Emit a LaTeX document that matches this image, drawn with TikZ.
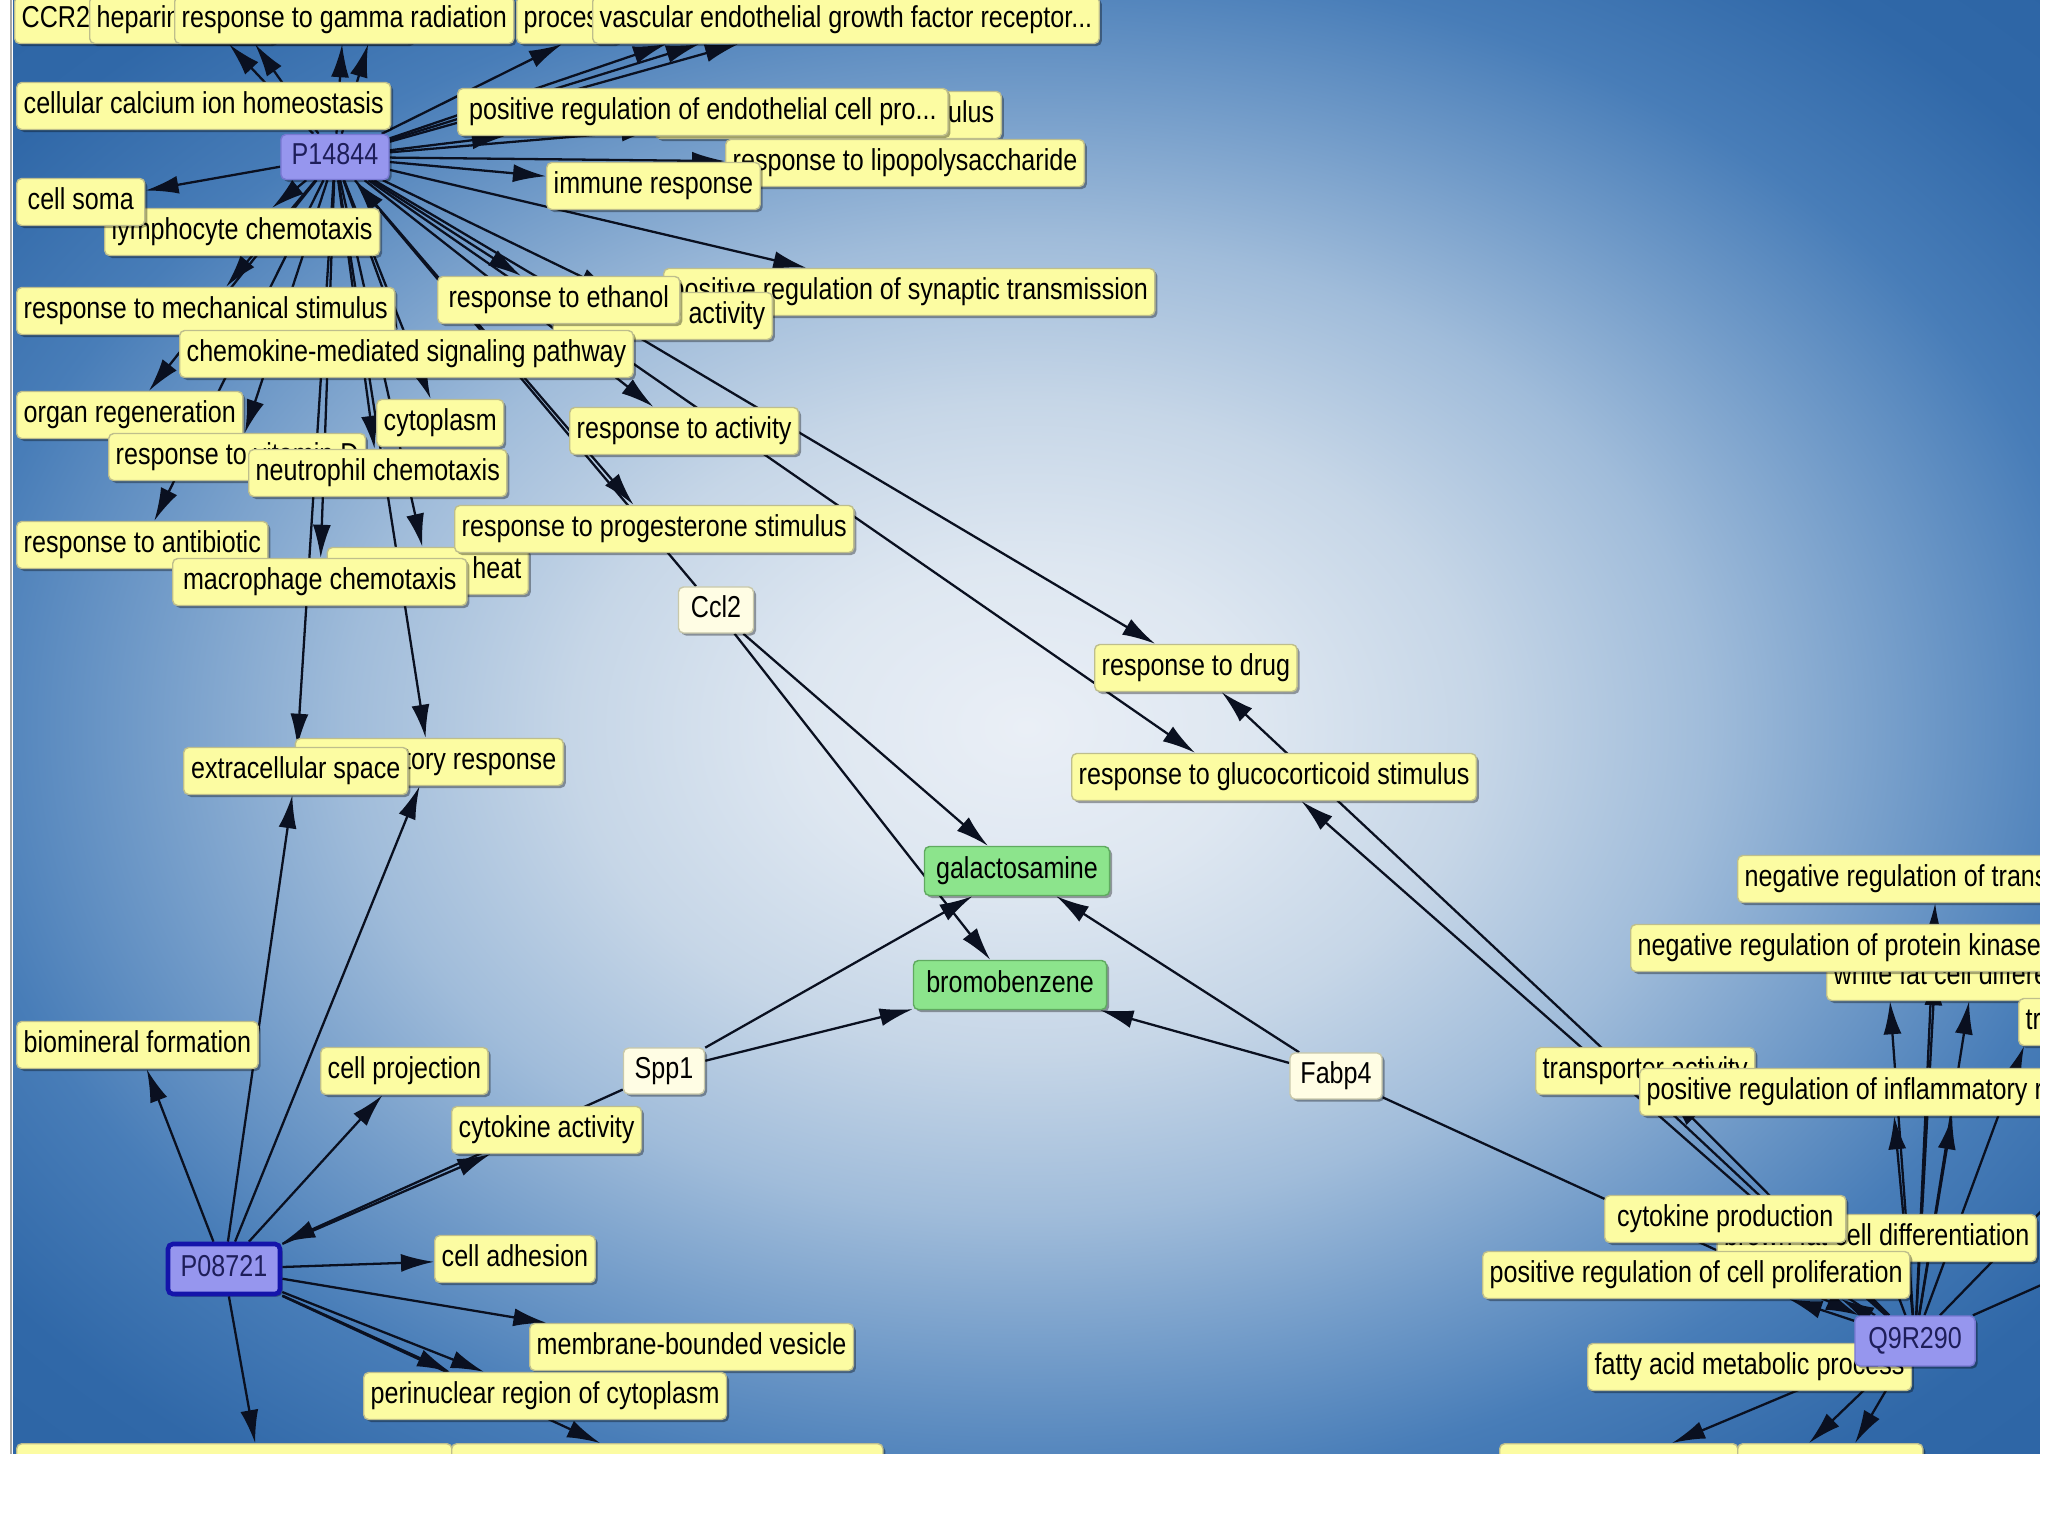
\documentclass[tikz,border=0pt]{standalone}
\usepackage{fontspec}
\newfontfamily\boxfont{Liberation Sans}[FakeStretch=0.83]
\usetikzlibrary{arrows.meta,shadows}
\definecolor{goyel}{RGB}{252,252,162}
\definecolor{gobord}{RGB}{190,190,140}
\definecolor{protc}{RGB}{150,150,238}
\definecolor{protbord}{RGB}{120,120,210}
\definecolor{protext}{RGB}{30,30,90}
\definecolor{selblue}{RGB}{20,20,170}
\definecolor{genec}{RGB}{255,253,228}
\definecolor{genebord}{RGB}{200,200,170}
\definecolor{chemc}{RGB}{140,228,140}
\definecolor{chembord}{RGB}{96,170,96}
\definecolor{edgec}{RGB}{10,16,32}
\definecolor{bg0}{RGB}{234,239,246}
\definecolor{bg1}{RGB}{222,231,241}
\definecolor{bg2}{RGB}{198,214,231}
\definecolor{bg3}{RGB}{160,188,218}
\definecolor{bg4}{RGB}{112,154,200}
\definecolor{bg5}{RGB}{72,125,184}
\definecolor{bg6}{RGB}{48,104,168}
\definecolor{bg7}{RGB}{38,94,158}
\pgfdeclareradialshading{bgshade}{\pgfpoint{0bp}{0bp}}{color(0bp)=(bg0); color(5.6bp)=(bg1); color(11.2bp)=(bg2); color(16.8bp)=(bg3); color(22bp)=(bg4); color(26.5bp)=(bg5); color(32bp)=(bg6); color(45bp)=(bg7)}
\pgfdeclarelayer{bg}
\pgfdeclarelayer{edges}
\pgfdeclarelayer{fg}
\pgfsetlayers{bg,edges,main,fg}
\tikzset{
  go/.style={draw=gobord, fill=goyel, rounded corners=0.05cm, minimum height=0.47cm,
    inner xsep=0.07cm, inner ysep=0pt, text height=0.22cm, text depth=0.065cm,
    font=\boxfont\fontsize{8.6pt}{9.6pt}\selectfont, text=black,
    drop shadow={shadow xshift=0.025cm, shadow yshift=-0.025cm, opacity=0.35, fill=black}},
  prot/.style={go, fill=protc, draw=protbord, text=protext, minimum height=0.45cm},
  sel/.style={draw=selblue, line width=1.3pt},
  gene/.style={go, fill=genec, draw=genebord, minimum height=0.46cm},
  chem/.style={go, fill=chemc, draw=chembord, minimum height=0.49cm},
  arr/.style={draw=edgec, line width=0.65pt, -{Latex[length=0.33cm,width=0.18cm]}},
  ln/.style={draw=edgec, line width=0.65pt},
  botbox/.style={go, anchor=north west, minimum height=0.6cm}
}
\begin{document}
\begin{tikzpicture}[x=0.01cm, y=-0.01cm]
\useasboundingbox (0,0) rectangle (2048,1536);
\begin{pgfonlayer}{bg}
  \fill[white] (0,0) rectangle (2048,1536);
  \shade[shading=bgshade] (13,0) rectangle (2040,1454);
\end{pgfonlayer}

% top row
\node[go,anchor=west] (ccr) at (14,20) {CCR2 chemokine receptor binding};
\node[go,anchor=west] (hep) at (89,20) {heparin binding};
\node[go,anchor=west] (gam) at (174,20) {response to gamma radiation};
\node[go,anchor=west] (proc) at (516,20) {process};
\node[go,anchor=west] (vasc) at (592,20) {vascular endothelial growth factor receptor...};
% second band
\node[go,anchor=west] (cca) at (16,106) {cellular calcium ion homeostasis};
\node[go,anchor=east] (uls) at (1002,115) {response to estradiol stimulus};
\node[go,anchor=west,minimum width=4.9cm] (pre) at (457,112) {positive regulation of endothelial cell pro...};
\node[go,anchor=west] (lps) at (725,163) {response to lipopolysaccharide};
\node[go,anchor=west] (imm) at (546,186) {immune response};
\node[go,anchor=west] (lym) at (104,232) {lymphocyte chemotaxis};
\node[go,anchor=west,minimum width=1.28cm] (soma) at (16,202) {cell soma};
\node[prot,minimum width=1.08cm] (p1) at (335,157) {P14844};
\node[go,anchor=west] (syn) at (663,292) {positive regulation of synaptic transmission};
\node[go,anchor=east] (cka) at (773,316) {chemokine activity};
\node[go,anchor=west,minimum width=2.42cm] (eth) at (437,300) {response to ethanol};
\node[go,anchor=west] (mech) at (16,311) {response to mechanical stimulus};
\node[go,anchor=west] (cms) at (179,354) {chemokine-mediated signaling pathway};
\node[go,anchor=west] (org) at (16,415) {organ regeneration};
\node[go,anchor=west] (cyt) at (376,423) {cytoplasm};
\node[go,anchor=west] (act) at (569,431) {response to activity};
\node[go,anchor=west] (vit) at (108,457) {response to vitamin D};
\node[go,anchor=west] (neu) at (248,473) {neutrophil chemotaxis};
\node[go,anchor=west] (anti) at (16,545) {response to antibiotic};
\node[go,anchor=east] (heat) at (529,571) {response to heat};
\node[go,anchor=west] (prog) at (454,529) {response to progesterone stimulus};
\node[go,anchor=west,minimum width=2.94cm] (mac) at (172,582) {macrophage chemotaxis};
\node[gene,minimum width=0.75cm] (ccl) at (716,610) {Ccl2};
\node[go,anchor=west] (drug) at (1094,668) {response to drug};
\node[go,anchor=east] (infl) at (564,762) {inflammatory response};
\node[go,anchor=west,minimum width=2.24cm] (ext) at (183,771) {extracellular space};
\node[go,anchor=west] (glu) at (1071,777) {response to glucocorticoid stimulus};
\node[chem,minimum width=1.85cm] (gal) at (1017,871) {galactosamine};
\node[go,anchor=west] (ntr) at (1737,879) {negative regulation of transcription, DNA-dependent};
\node[go,anchor=west] (wf) at (1826,977) {white fat cell differentiation};
\node[go,anchor=west] (npk) at (1630,948) {negative regulation of protein kinase activity};
\node[go,anchor=west] (tb) at (2018,1022) {transcription factor binding};
\node[chem,minimum width=1.93cm] (bro) at (1010,985) {bromobenzene};
\node[go,anchor=west] (bio) at (16,1045) {biomineral formation};
\node[go,anchor=west] (proj) at (320,1071) {cell projection};
\node[gene,minimum width=0.81cm] (spp) at (664,1071) {Spp1};
\node[gene,minimum width=0.92cm] (fab) at (1336,1076) {Fabp4};
\node[go,anchor=west] (trn) at (1535,1071) {transporter activity};
\node[go,anchor=west] (pri) at (1639,1092) {positive regulation of inflammatory response};
\node[go,anchor=west] (ckact) at (451,1130) {cytokine activity};
\node[go,anchor=east] (bfd) at (2037,1238) {brown fat cell differentiation};
\node[go,anchor=west,minimum width=2.41cm] (ckp) at (1604,1219) {cytokine production};
\node[prot,sel,minimum width=1.12cm,minimum height=0.5cm] (p2) at (224,1269) {P08721};
\node[go,anchor=west] (adh) at (434,1259) {cell adhesion};
\node[go,anchor=west] (prl) at (1482,1275) {positive regulation of cell proliferation};
\node[go,anchor=west] (fat) at (1587,1367) {fatty acid metabolic process};
\node[prot,minimum width=1.2cm,minimum height=0.5cm] (q) at (1915,1341) {Q9R290};
\node[go,anchor=west] (mbv) at (529,1347) {membrane-bounded vesicle};
\node[go,anchor=west] (pnr) at (363,1396) {perinuclear region of cytoplasm};
\node[botbox,minimum width=4.35cm] (b1) at (16,1443) {};
\node[botbox,minimum width=4.31cm] (b2) at (451,1443) {};
\node[botbox,minimum width=2.38cm] (b3) at (1499,1443) {};
\node[botbox,minimum width=1.85cm] (b4) at (1737,1443) {};
\coordinate (offa) at (2120,1130);
\coordinate (offb) at (2120,1250);

\begin{pgfonlayer}{edges}
  % P14844
  \draw[arr] (p1) -- ([xshift=1.40cm]hep.south west);
  \draw[arr] (p1) -- ([xshift=1.66cm]hep.south west);
  \draw[arr] (p1) -- ([xshift=1.68cm]gam.south west);
  \draw[arr] (p1) -- ([xshift=1.94cm]gam.south west);
  \draw[arr] (p1) -- ([xshift=0.46cm]proc.south west);
  \draw[arr] (p1) -- ([xshift=0.74cm]vasc.south west);
  \draw[arr] (p1) -- ([xshift=1.07cm]vasc.south west);
  \draw[arr] (p1) -- ([xshift=1.46cm]vasc.south west);
  \draw[arr] (p1) -- (pre);
  \draw[arr] (p1) -- (uls);
  \draw[arr] (p1) -- (lps);
  \draw[arr] (p1) -- (imm);
  \draw[arr] (p1) -- (soma);
  \draw[arr] (p1) -- (lym);
  \draw[arr] (p1) -- (mech);
  \draw[arr] (p1) -- (cms);
  \draw[arr] (p1) -- (org);
  \draw[arr] (p1) -- (vit);
  \draw[arr] (p1) -- (cyt);
  \draw[arr] (p1) -- (neu);
  \draw[arr] (p1) -- (eth);
  \draw[arr] (p1) -- (cka);
  \draw[arr] (p1) -- (syn);
  \draw[arr] (p1) -- (act);
  \draw[arr] (p1) -- (prog);
  \draw[arr] (p1) -- (anti);
  \draw[arr] (p1) -- (mac);
  \draw[arr] (p1) -- (heat);
  \draw[arr] (p1) -- (ext);
  \draw[arr] (p1) -- (infl);
  \draw[arr] (p1) -- (drug);
  \draw[arr] (p1) -- ([xshift=1.24cm]glu.north west);
  \draw[arr] (ccl) -- (p1);
  % P08721
  \draw[arr] (p2) -- (bio);
  \draw[arr] (p2) -- (ext);
  \draw[arr] (p2) -- (infl);
  \draw[arr] (p2) -- (proj);
  \draw[arr] (p2) -- (ckact);
  \draw[arr] (spp) -- (p2);
  \draw[arr] (p2) -- (adh);
  \draw[arr] (p2) -- (mbv);
  \draw[arr] (p2) -- (pnr);
  \draw[arr] (p2) -- ([xshift=0.87cm]pnr.north west);
  \draw[arr] (p2) -- ([xshift=2.39cm]b1.north west);
  \draw[arr] (p2) -- ([xshift=1.49cm]b2.north west);
  % genes to chemicals
  \draw[arr] (ccl) -- (gal);
  \draw[arr] (ccl) -- (bro);
  \draw[arr] (spp) -- (gal);
  \draw[arr] (spp) -- (bro);
  \draw[arr] (fab) -- (gal);
  \draw[arr] (fab) -- (bro);
  \draw[arr] (fab) -- (q);
  % Q9R290
  \draw[arr] (q) -- (drug);
  \draw[arr] (q) -- (glu);
  \draw[arr] (q) -- (trn);
  \draw[arr] (q) -- (ckp);
  \draw[arr] (q) -- (bfd);
  \draw[arr] (q) -- ([xshift=1.98cm]ntr.south west);
  \draw[arr] (q) -- ([xshift=3.05cm]npk.south west);
  \draw[arr] (q) -- ([xshift=0.64cm]wf.south west);
  \draw[arr] (q) -- ([xshift=1.43cm]wf.south west);
  \draw[arr] (q) -- ([xshift=2.55cm]pri.south west);
  \draw[arr] (q) -- ([xshift=3.13cm]pri.south west);
  \draw[arr] (q) -- ([xshift=0.06cm]tb.south west);
  \draw[arr] (q) -- ([xshift=3.07cm]prl.south west);
  \draw[arr] (q) -- ([xshift=3.59cm]prl.south west);
  \draw[arr] (q) -- (fat);
  \draw[arr] (q) -- ([xshift=1.73cm]b3.north west);
  \draw[arr] (q) -- ([xshift=0.72cm]b4.north west);
  \draw[arr] (q) -- ([xshift=1.18cm]b4.north west);
  \draw[ln] (q) -- (offa);
  \draw[ln] (q) -- (offb);
\end{pgfonlayer}

\begin{pgfonlayer}{fg}
  \fill[white] (2040,-20) rectangle (2100,1600);
  \fill[white] (-20,1454) rectangle (2100,1600);
  \fill[white] (-20,-20) rectangle (13,1454);
  \draw[gray!70, line width=0.8pt] (11,0) -- (11,1454);
\end{pgfonlayer}
\end{tikzpicture}
\end{document}
